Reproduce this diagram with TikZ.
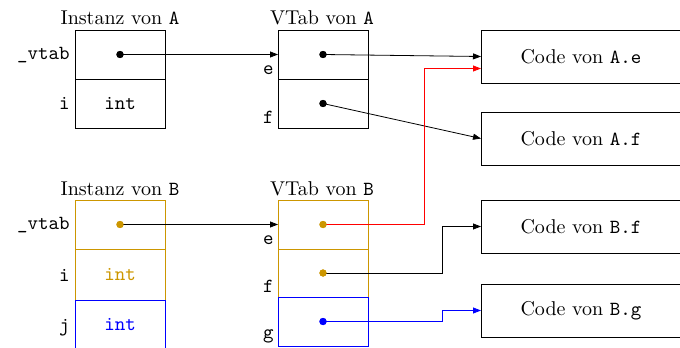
\documentclass[tikz,border=0pt]{standalone}
\usepackage{fontspec}
\usetikzlibrary{arrows.meta,calc}
\definecolor{gold}{RGB}{204,150,0}
\begin{document}
\begin{tikzpicture}[x=0.5pt,y=-0.5pt,
  cell/.style={draw, rectangle, minimum width=45pt, minimum height=24.5pt, inner sep=0pt, outer sep=0pt, anchor=north west, font=\ttfamily},
  codebox/.style={draw, rectangle, minimum width=100pt, minimum height=26.5pt, inner sep=0pt, outer sep=0pt, anchor=north west},
  dot/.style={circle, fill, minimum size=3.6pt, inner sep=0pt},
  lbl/.style={anchor=base east, font=\ttfamily, inner sep=0pt},
  ttl/.style={anchor=base, inner sep=0pt},
  arr/.style={-{Triangle[length=4pt,width=3pt]}}]
\useasboundingbox (0,0) rectangle (680,348);

% titles
\node[ttl] (tIA) at (120,25) {Instanz von \texttt{A}};
\node[ttl] (tVA) at (322,25) {VTab von \texttt{A}};
\node[ttl] (tIB) at (120,195) {Instanz von \texttt{B}};
\node[ttl] (tVB) at (322,195) {VTab von \texttt{B}};

% instance A
\node[cell] (iA1) at (75,30) {};
\node[cell] (iA2) at (75,79) {int};
\node[dot] (dIA) at (iA1.center) {};
\node[lbl] (lIA1) at (70,59) {\_vtab};
\node[lbl] (lIA2) at (70,109) {i};

% vtab A
\node[cell] (vA1) at (278,30) {};
\node[cell] (vA2) at (278,79) {};
\node[dot] (dVA1) at (vA1.center) {};
\node[dot] (dVA2) at (vA2.center) {};
\node[lbl] (lVA1) at (274,74) {e};
\node[lbl] (lVA2) at (274,123) {f};

% instance B
\node[cell, draw=gold] (iB1) at (75,200) {};
\node[cell, draw=gold, text=gold, minimum height=25.5pt] (iB2) at (75,249) {int};
\node[cell, draw=blue, text=blue] (iB3) at (75,300) {int};
\node[dot, fill=gold] (dIB) at (iB1.center) {};
\node[lbl] (lIB1) at (70,229) {\_vtab};
\node[lbl] (lIB2) at (70,281) {i};
\node[lbl] (lIB3) at (70,331) {j};

% vtab B
\node[cell, draw=gold] (vB1) at (278,200) {};
\node[cell, draw=gold, minimum height=24pt] (vB2) at (278,249) {};
\node[cell, draw=blue] (vB3) at (278,297) {};
\node[dot, fill=gold] (dVB1) at (vB1.center) {};
\node[dot, fill=gold] (dVB2) at (vB2.center) {};
\node[dot, fill=blue] (dVB3) at (vB3.center) {};
\node[lbl] (lVB1) at (274,244) {e};
\node[lbl] (lVB2) at (274,292) {f};
\node[lbl] (lVB3) at (274,338) {g};

% code boxes
\node[codebox] (c1) at (481,30) {Code von \texttt{A.e}};
\node[codebox] (c2) at (481,112) {Code von \texttt{A.f}};
\node[codebox] (c3) at (481,200) {Code von \texttt{B.f}};
\node[codebox] (c4) at (481,284) {Code von \texttt{B.g}};

% routing columns
\coordinate (rx) at (424,0);
\coordinate (bx) at (442,0);

% connectors
\draw[arr] (dIA.center) -- (vA1.west);
\draw[arr] (dIB.center) -- (vB1.west);
\draw[arr] (dVA1.center) -- (c1.west);
\draw[arr] (dVA2.center) -- (c2.west);
\draw[arr, red] (dVB1.center) -- (dVB1.center -| rx) |- ([yshift=-6pt]c1.west);
\draw[arr] (dVB2.center) -- (dVB2.center -| bx) |- (c3.west);
\draw[arr, blue] (dVB3.center) -- (dVB3.center -| bx) |- (c4.west);

% redraw dots on top
\node[dot] at (dIA) {};
\node[dot] at (dVA1) {};
\node[dot] at (dVA2) {};
\node[dot, fill=gold] at (dIB) {};
\node[dot, fill=gold] at (dVB1) {};
\node[dot, fill=gold] at (dVB2) {};
\node[dot, fill=blue] at (dVB3) {};
\end{tikzpicture}
\end{document}
